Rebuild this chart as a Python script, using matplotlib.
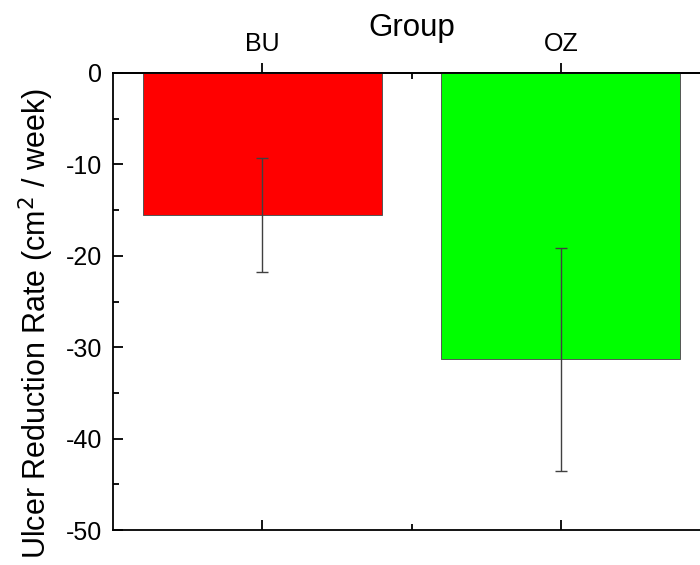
import matplotlib.pyplot as plt
from matplotlib.ticker import MultipleLocator

plt.rcParams['font.family'] = ['Liberation Sans', 'DejaVu Sans']
plt.rcParams['axes.unicode_minus'] = False

groups = ["BU", "OZ"]
means = [-15.5, -31.3]
errors = [6.25, 12.2]
colors = ["#ff0000", "#00ff00"]

fig = plt.figure(figsize=(7, 5.65), dpi=100)
ax = fig.add_axes([0.1614, 0.0619, 0.853, 0.8089])

x = [1, 2]
ax.bar(x, means, width=0.8, color=colors, edgecolor="#555555", linewidth=0.7,
       yerr=errors, error_kw=dict(ecolor="#404040", elinewidth=1.0, capsize=4, capthick=1.0))

ax.set_xlim(0.5, 2.5)
ax.set_ylim(-50, 0)
ax.yaxis.set_major_locator(MultipleLocator(10))
ax.yaxis.set_minor_locator(MultipleLocator(5))
ax.set_ylabel("Ulcer Reduction Rate (cm$^2$ / week)", fontsize=22)
ax.yaxis.set_label_coords(-0.095, 0.452)
ax.tick_params(axis="y", which="major", direction="in", length=7, width=1.3, labelsize=18, pad=8)
ax.tick_params(axis="y", which="minor", direction="in", length=4, width=1.3)

# bottom axis: ticks only, pointing inward
ax.set_xticks(x)
ax.set_xticks([1.5], minor=True)
ax.tick_params(axis="x", which="major", direction="in", length=7, width=1.3, labelbottom=False)
ax.tick_params(axis="x", which="minor", direction="in", length=4, width=1.3)

# top axis with the group labels
top = ax.secondary_xaxis("top")
top.set_xticks(x)
top.set_xticklabels(groups)
top.set_xticks([1.5], minor=True)
top.tick_params(which="major", direction="out", length=7, width=1.3, labelsize=18, pad=5)
top.tick_params(which="minor", direction="in", length=4, width=1.3)
top.set_xlabel("Group", fontsize=22.5, labelpad=-3)
top.spines["top"].set_linewidth(1.3)

for s in ax.spines.values():
    s.set_linewidth(1.3)

fig.savefig("out.png", dpi=100)
